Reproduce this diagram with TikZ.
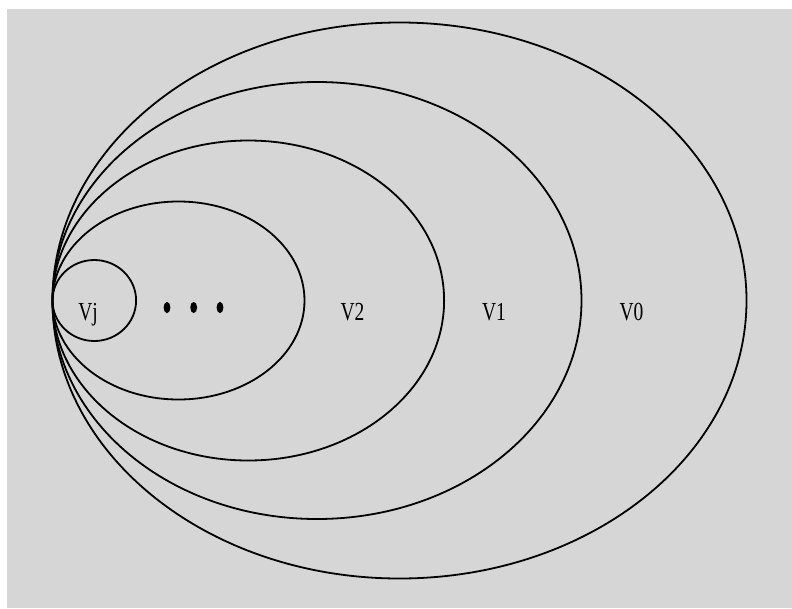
\documentclass[tikz,border=0pt]{standalone}
\usepackage{fontspec}
\setmainfont{Liberation Serif}
\definecolor{bggray}{RGB}{214,214,214}
\tikzset{
  ring/.style={draw=black, line width=1.8pt},
  lbl/.style={anchor=base, inner sep=0pt, font=\fontsize{26}{26}\selectfont, xscale=0.75},
  dotmark/.style={fill=black}
}
\begin{document}
\begin{tikzpicture}[x=1pt,y=-1pt]
\useasboundingbox (0,0) rectangle (792,608);
\fill[white] (0,0) rectangle (792,608);
\fill[bggray] (7,9) rectangle (792,608);
% nested ellipses, all tangent at the left
\draw[ring] (399.5,300.5) ellipse [x radius=347, y radius=278];
\draw[ring] (317,300.5) ellipse [x radius=264.5, y radius=218.5];
\draw[ring] (248.3,300.5) ellipse [x radius=195.8, y radius=160];
\draw[ring] (178.5,300.5) ellipse [x radius=126, y radius=99];
\draw[ring] (94.3,300.5) ellipse [x radius=41.8, y radius=40.5];
% dots
\fill[dotmark] (167,307.5) ellipse [x radius=3.4, y radius=5.6];
\fill[dotmark] (193.7,307.5) ellipse [x radius=3.4, y radius=5.6];
\fill[dotmark] (220,307.5) ellipse [x radius=3.4, y radius=5.6];
% labels
\node[lbl] (vj) at (88,320) {Vj};
\node[lbl] (v2) at (352.5,320) {V2};
\node[lbl] (v1) at (494,320) {V1};
\node[lbl] (v0) at (631.5,320) {V0};
\end{tikzpicture}
\end{document}
